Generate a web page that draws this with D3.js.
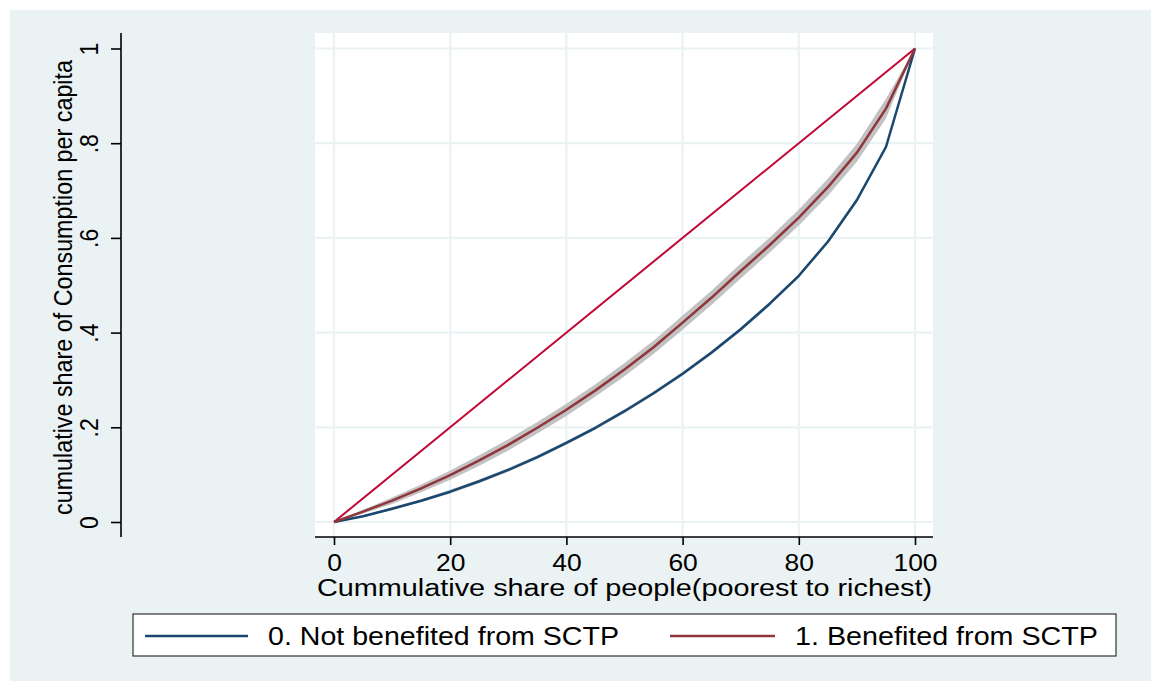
<!DOCTYPE html>
<html>
<head>
<meta charset="utf-8">
<script src="https://cdn.jsdelivr.net/npm/d3@7"></script>
<style>
  body { margin: 0; background: #ffffff; }
  text { font-family: "Liberation Sans", Arial, sans-serif; fill: #000; }
</style>
</head>
<body>
<svg id="chart" width="1151" height="681"></svg>
<script>
// Cumulative population share (%), poorest to richest
const popShare = [0, 5, 10, 15, 20, 25, 30, 35, 40, 45, 50, 55, 60, 65, 70, 75, 80, 85, 90, 95, 100];

// Lorenz ordinates: cumulative share of consumption per capita
const notBenefited = [0, 0.012, 0.028, 0.045, 0.064, 0.086, 0.110, 0.137, 0.167, 0.199, 0.234, 0.272, 0.313, 0.358, 0.407, 0.461, 0.520, 0.592, 0.680, 0.792, 1];
const benefited    = [0, 0.022, 0.045, 0.071, 0.099, 0.130, 0.163, 0.199, 0.237, 0.278, 0.322, 0.369, 0.421, 0.474, 0.530, 0.585, 0.643, 0.707, 0.780, 0.873, 1];

// Half-widths of the confidence bands around each curve
const notBenefitedCI = [0, 0.002, 0.003, 0.003, 0.004, 0.004, 0.004, 0.004, 0.004, 0.004, 0.004, 0.004, 0.004, 0.004, 0.004, 0.004, 0.004, 0.004, 0.005, 0.005, 0];
const benefitedCI    = [0, 0.004, 0.007, 0.008, 0.010, 0.011, 0.012, 0.012, 0.013, 0.013, 0.014, 0.014, 0.015, 0.015, 0.016, 0.016, 0.017, 0.018, 0.019, 0.021, 0];

// Line of perfect equality
const equality = [[0, 0], [100, 1]];

const xTicks = [0, 20, 40, 60, 80, 100];
const yTicks = [0, 0.2, 0.4, 0.6, 0.8, 1];
const yTickLabels = ["0", ".2", ".4", ".6", ".8", "1"];
const seriesNames = ["0. Not benefited from SCTP", "1. Benefited from SCTP"];
const xTitle = "Cummulative share of people(poorest to richest)";
const yTitle = "cumulative share of Consumption per capita";

const colors = { not: "#1a476f", ben: "#90353b", eq: "#c10534", band: "#c2c2c2", grid: "#eaf2f3", bg: "#eaf2f3" };

const svg = d3.select("#chart");

// Frame and plot region
const plot = { left: 315, right: 933, top: 33, bottom: 537 };
svg.append("rect").attr("x", 10).attr("y", 10).attr("width", 1141).attr("height", 671).attr("fill", colors.bg);
svg.append("rect").attr("x", plot.left).attr("y", plot.top)
  .attr("width", plot.right - plot.left).attr("height", plot.bottom - plot.top).attr("fill", "#fff");

const x = d3.scaleLinear().domain([0, 100]).range([334, 915]);
const y = d3.scaleLinear().domain([0, 1]).range([522, 48.5]);

// Grid
const grid = svg.append("g").attr("stroke", colors.grid).attr("stroke-width", 2.2);
grid.selectAll("line.gx").data(xTicks).join("line")
  .attr("x1", d => x(d)).attr("x2", d => x(d)).attr("y1", plot.top).attr("y2", plot.bottom);
grid.selectAll("line.gy").data(yTicks).join("line")
  .attr("y1", d => y(d)).attr("y2", d => y(d)).attr("x1", plot.left).attr("x2", plot.right);

// Confidence bands
const band = d3.area()
  .x(d => x(d.p))
  .y0(d => y(d.v - d.ci))
  .y1(d => y(d.v + d.ci));
const rows = (vals, ci) => popShare.map((p, i) => ({ p, v: vals[i], ci: ci[i] }));

svg.append("path").datum(rows(benefited, benefitedCI)).attr("d", band).attr("fill", colors.band);
svg.append("path").datum(rows(notBenefited, notBenefitedCI)).attr("d", band).attr("fill", colors.band);

// Curves
const line = d3.line().x(d => x(d[0])).y(d => y(d[1]));
svg.append("path").datum(equality).attr("d", line)
  .attr("fill", "none").attr("stroke", colors.eq).attr("stroke-width", 2);
svg.append("path").datum(popShare.map((p, i) => [p, notBenefited[i]])).attr("d", line)
  .attr("fill", "none").attr("stroke", colors.not).attr("stroke-width", 2.5).attr("stroke-linejoin", "round");
svg.append("path").datum(popShare.map((p, i) => [p, benefited[i]])).attr("d", line)
  .attr("fill", "none").attr("stroke", colors.ben).attr("stroke-width", 2.5).attr("stroke-linejoin", "round");

// X axis
const xAxis = svg.append("g").attr("transform", `translate(0,${plot.bottom})`)
  .call(d3.axisBottom(x).tickValues(xTicks).tickSize(8).tickPadding(25));
xAxis.select(".domain").remove();
xAxis.selectAll(".tick line").attr("stroke", "#000").attr("stroke-width", 1.6);
xAxis.selectAll(".tick text")
  .attr("y", 0).attr("dy", 0)
  .attr("transform", "translate(0,34) scale(1.15,1)")
  .style("font-size", "23px");
xAxis.append("line").attr("x1", plot.left).attr("x2", plot.right)
  .attr("stroke", "#000").attr("stroke-width", 1.6);

// Y axis (offset to the left of the plot region)
const yAxisX = 121;
const yAxis = svg.append("g").attr("transform", `translate(${yAxisX},0)`)
  .call(d3.axisLeft(y).tickValues(yTicks).tickFormat((d, i) => yTickLabels[i]).tickSize(10));
yAxis.select(".domain").remove();
yAxis.selectAll(".tick line").attr("stroke", "#000").attr("stroke-width", 1.6);
yAxis.selectAll(".tick text")
  .attr("x", 0).attr("dy", 0)
  .attr("text-anchor", "middle")
  .attr("transform", "translate(-23,0) scale(1.15,1) rotate(-90)")
  .style("font-size", "23px");
yAxis.append("line").attr("y1", plot.top).attr("y2", plot.bottom)
  .attr("stroke", "#000").attr("stroke-width", 1.6);

// Axis titles
svg.append("text")
  .attr("x", 317).attr("y", 596)
  .attr("textLength", 615).attr("lengthAdjust", "spacingAndGlyphs")
  .style("font-size", "23.5px")
  .text(xTitle);

svg.append("text")
  .attr("transform", "translate(72,287.5) scale(1.08,1) rotate(-90)")
  .attr("text-anchor", "middle")
  .attr("textLength", 455).attr("lengthAdjust", "spacingAndGlyphs")
  .style("font-size", "24px")
  .text(yTitle);

// Legend
const legend = svg.append("g");
legend.append("rect").attr("x", 133).attr("y", 614).attr("width", 983).attr("height", 42)
  .attr("fill", "#fff").attr("stroke", "#333").attr("stroke-width", 1.2);
const legendItems = [
  { name: seriesNames[0], color: colors.not, x0: 145, x1: 248, tx: 268, w: 351 },
  { name: seriesNames[1], color: colors.ben, x0: 670, x1: 775, tx: 795, w: 303 }
];
legendItems.forEach(it => {
  legend.append("line").attr("x1", it.x0).attr("x2", it.x1).attr("y1", 636).attr("y2", 636)
    .attr("stroke", it.color).attr("stroke-width", 2.5);
  legend.append("text").attr("x", it.tx).attr("y", 645)
    .attr("textLength", it.w).attr("lengthAdjust", "spacingAndGlyphs")
    .style("font-size", "25px").text(it.name);
});
</script>
</body>
</html>
